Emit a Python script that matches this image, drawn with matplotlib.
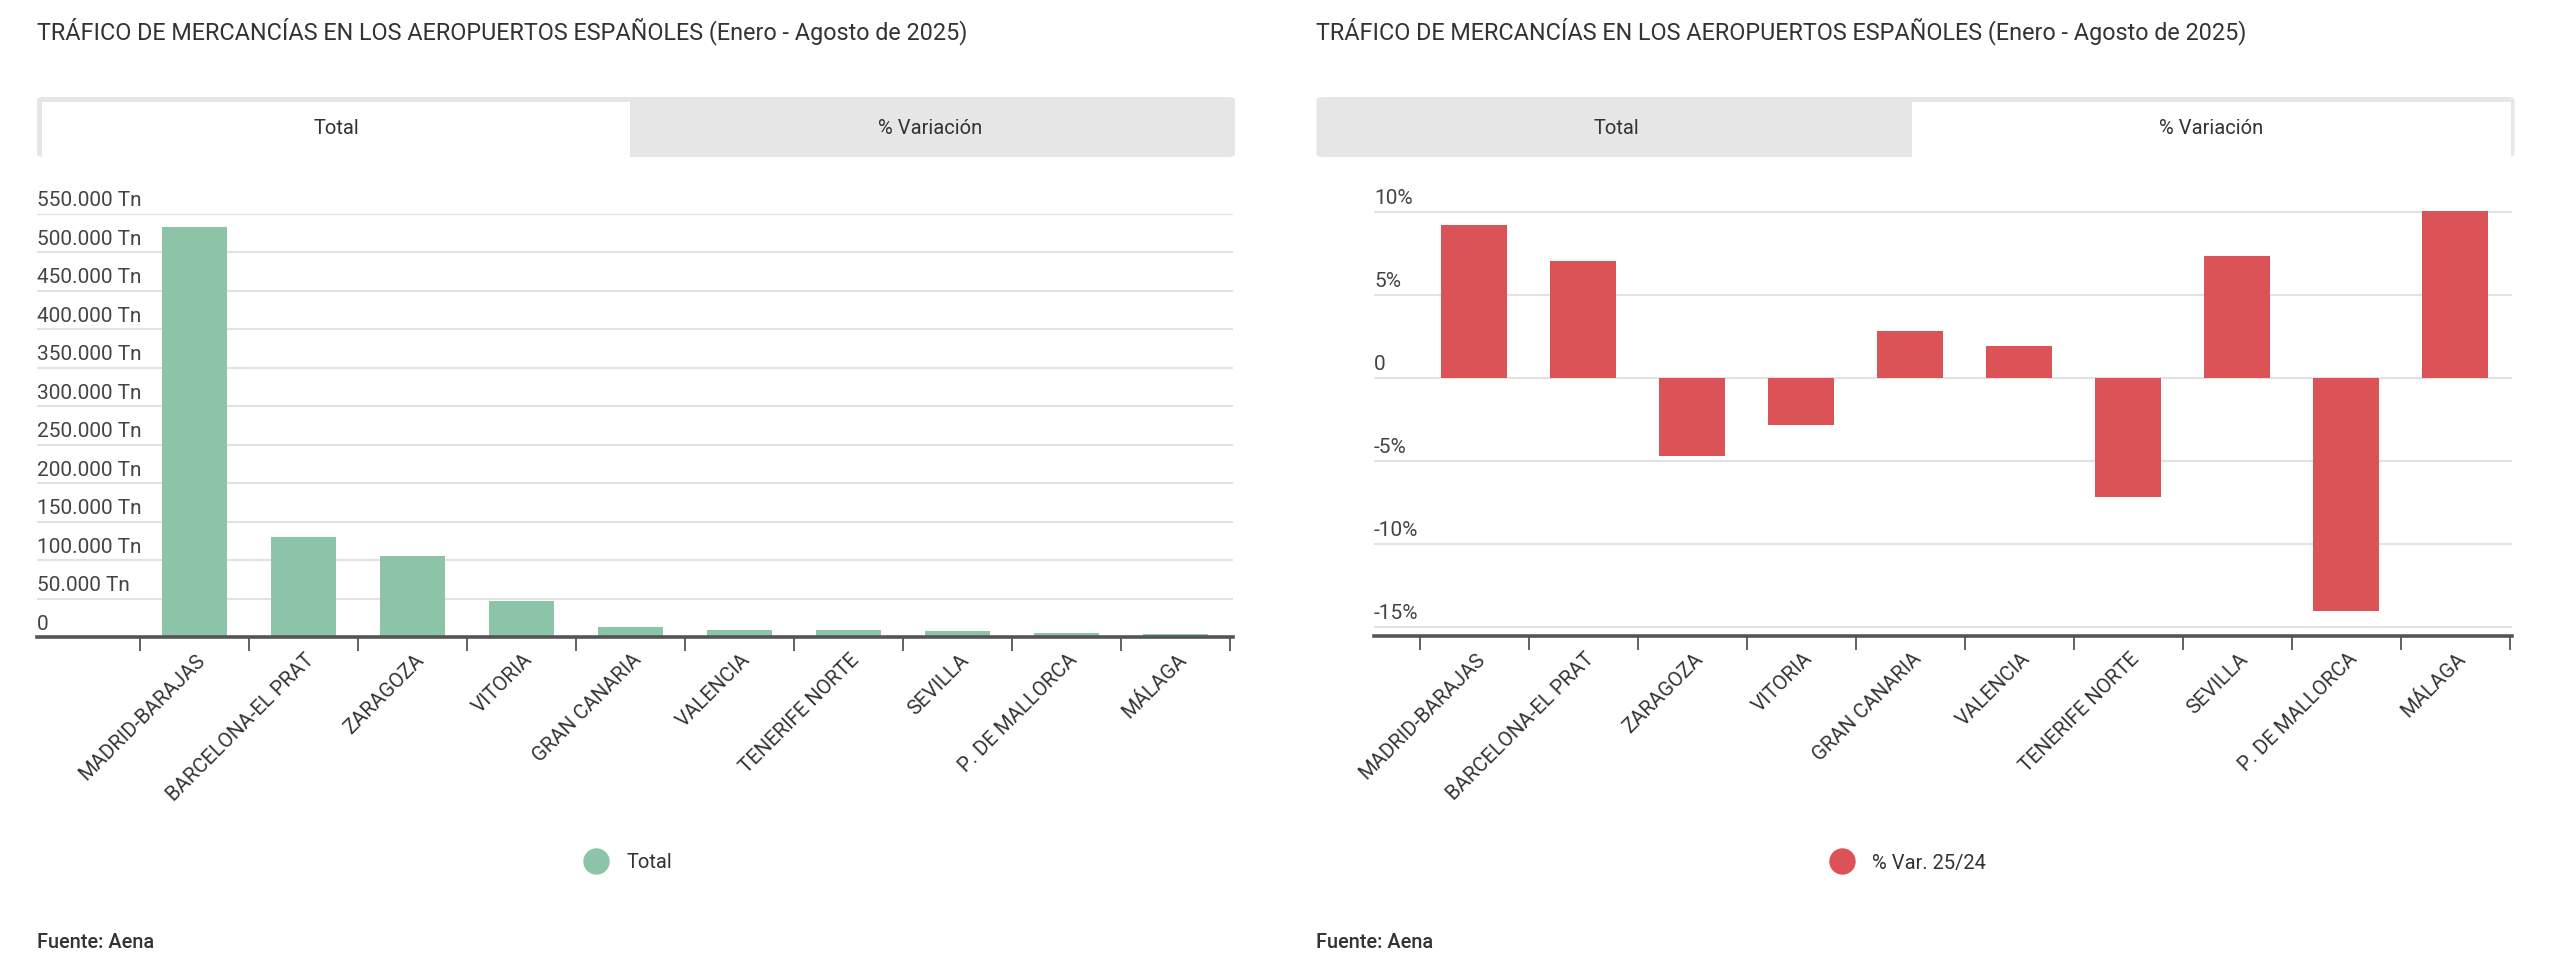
import matplotlib
matplotlib.use("Agg")
import matplotlib.pyplot as plt
import numpy as np
from matplotlib.patches import Rectangle, FancyBboxPatch
from matplotlib.lines import Line2D
import matplotlib.transforms as mtransforms

plt.rcParams['font.family'] = ['Roboto', 'DejaVu Sans']

# ---------------- data ----------------
airports = ["MADRID-BARAJAS", "BARCELONA-EL PRAT", "ZARAGOZA", "VITORIA", "GRAN CANARIA",
            "VALENCIA", "TENERIFE NORTE", "SEVILLA", "P. DE MALLORCA", "MÁLAGA"]
total_tn = [532500, 129500, 105700, 46400, 13400, 9500, 8700, 8200, 5200, 4300]
var_pct = [9.22, 7.04, -4.68, -2.86, 2.82, 1.94, -7.16, 7.32, -14.05, 10.05]

total_ticks = [0, 50000, 100000, 150000, 200000, 250000, 300000, 350000, 400000, 450000, 500000, 550000]
total_tick_labels = ["0", "50.000 Tn", "100.000 Tn", "150.000 Tn", "200.000 Tn", "250.000 Tn",
                     "300.000 Tn", "350.000 Tn", "400.000 Tn", "450.000 Tn", "500.000 Tn", "550.000 Tn"]
var_ticks = [-15, -10, -5, 0, 5, 10]
var_tick_labels = ["-15%", "-10%", "-5%", "0", "5%", "10%"]

title = "TRÁFICO DE MERCANCÍAS EN LOS AEROPUERTOS ESPAÑOLES (Enero - Agosto de 2025)"
tab_labels = ["Total", "% Variación"]
legend_labels = ["Total", "% Var. 25/24"]
source = "Fuente: Aena"

GREEN = "#8cc4a7"
RED = "#db5356"
TXT = "#333333"
GRID = "#e2e2e2"
AXC = "#555555"

W, H = 2560, 974
fig = plt.figure(figsize=(W / 100, H / 100), dpi=100)
fig.patch.set_facecolor("white")


def fx(x):
    return x / W


def fy(y):
    return 1 - y / H


def add_axes_px(x0, x1, ytop, ybot):
    return fig.add_axes([fx(x0), fy(ybot), (x1 - x0) / W, (ybot - ytop) / H])


def draw_panel(off, active, ax, values, color, ticks, tick_labels, legend_label, xlim, ylim):
    # title
    fig.text(fx(37 + off), fy(31), title, fontsize=16.8, color=TXT, va="center", ha="left")
    # tab bar
    bar_x0, bar_x1 = 37 + off, 1235 + off
    fig.add_artist(FancyBboxPatch((fx(bar_x0), fy(157)), (bar_x1 - bar_x0) / W, 60 / H,
                                  boxstyle="round,pad=0,rounding_size=0.003",
                                  transform=fig.transFigure, facecolor="#e6e6e6",
                                  edgecolor="none", zorder=0))
    split = 630 + off if active == 0 else 1912 - 1279.5 + off
    if active == 0:
        wx0, wx1 = 42 + off, split
    else:
        wx0, wx1 = split, 1231 + off
    fig.add_artist(Rectangle((fx(wx0), fy(157)), (wx1 - wx0) / W, 55 / H,
                             transform=fig.transFigure, facecolor="white",
                             edgecolor="none", zorder=1))
    c0 = (42 + off + split) / 2
    c1 = (split + 1231 + off) / 2
    fig.text(fx(c0), fy(128), tab_labels[0], fontsize=14.5, color=TXT, ha="center", va="center", zorder=2)
    fig.text(fx(c1), fy(128), tab_labels[1], fontsize=14.5, color=TXT, ha="center", va="center", zorder=2)

    # bars
    x = np.arange(len(airports))
    ax.bar(x, values, width=0.6, color=color, zorder=3)
    ax.set_xlim(*xlim)
    ax.set_ylim(*ylim)
    ax.set_yticks(ticks)
    ax.set_yticklabels([])
    ax.tick_params(axis="y", length=0)
    ax.yaxis.grid(True, color=GRID, linewidth=1.5)
    ax.set_axisbelow(True)
    for s in ["top", "right", "left"]:
        ax.spines[s].set_visible(False)
    ax.spines["bottom"].set_color(AXC)
    ax.spines["bottom"].set_linewidth(2.6)
    ax.spines["bottom"].set_zorder(4)
    ax.set_xticks(x)
    ax.set_xticklabels([])
    ax.tick_params(axis="x", which="major", length=0)
    ax.set_xticks(np.arange(-0.5, len(airports)), minor=True)
    ax.tick_params(axis="x", which="minor", length=10, width=1.3, color=AXC, direction="out")
    ax.set_facecolor("none")

    # rotated category labels
    xtrans = mtransforms.blended_transform_factory(ax.transData, ax.transAxes)
    xtrans = mtransforms.offset_copy(xtrans, fig=fig, x=8, y=-20, units="dots")
    for xi, name in zip(x, airports):
        ax.text(xi, 0, name, transform=xtrans, rotation=45, ha="right", va="center",
                rotation_mode="anchor", fontsize=14.7, color=TXT, clip_on=False)

    trans = mtransforms.blended_transform_factory(ax.transAxes, ax.transData)
    trans = mtransforms.offset_copy(trans, fig=fig, x=0, y=13, units="dots")
    for v, lab in zip(ticks, tick_labels):
        ax.text(0, v, lab, transform=trans, ha="left", va="center", fontsize=15,
                color="#444444", clip_on=False)

    # legend
    handle = Line2D([], [], marker="o", linestyle="none", markersize=18,
                    markerfacecolor=color, markeredgecolor=color)
    cx = (37 + 1235) / 2 + off - 12
    fig.legend([handle], [legend_label], loc="center", bbox_to_anchor=(fx(cx), fy(863)),
               frameon=False, fontsize=14.5, handletextpad=0.5, labelcolor=TXT)

    fig.text(fx(37 + off), fy(943), source, fontsize=14.3, color=TXT, fontweight="medium",
             ha="left", va="center")


ax1 = add_axes_px(37, 1233, 214, 637)
draw_panel(0, 0, ax1, total_tn, GREEN, total_ticks, total_tick_labels, legend_labels[0],
           (-0.5 - 103 / 109, 9.5 + 3 / 109), (0, 550000))

off = 1279.5
ax2 = add_axes_px(1374, 2512, 210.3, 636)
draw_panel(off, 1, ax2, var_pct, RED, var_ticks, var_tick_labels, legend_labels[1],
           (-0.5 - 45.5 / 109, 9.5 + 2.5 / 109), (-15.55, 10.1))

fig.savefig("out.png", dpi=100, facecolor="white")
